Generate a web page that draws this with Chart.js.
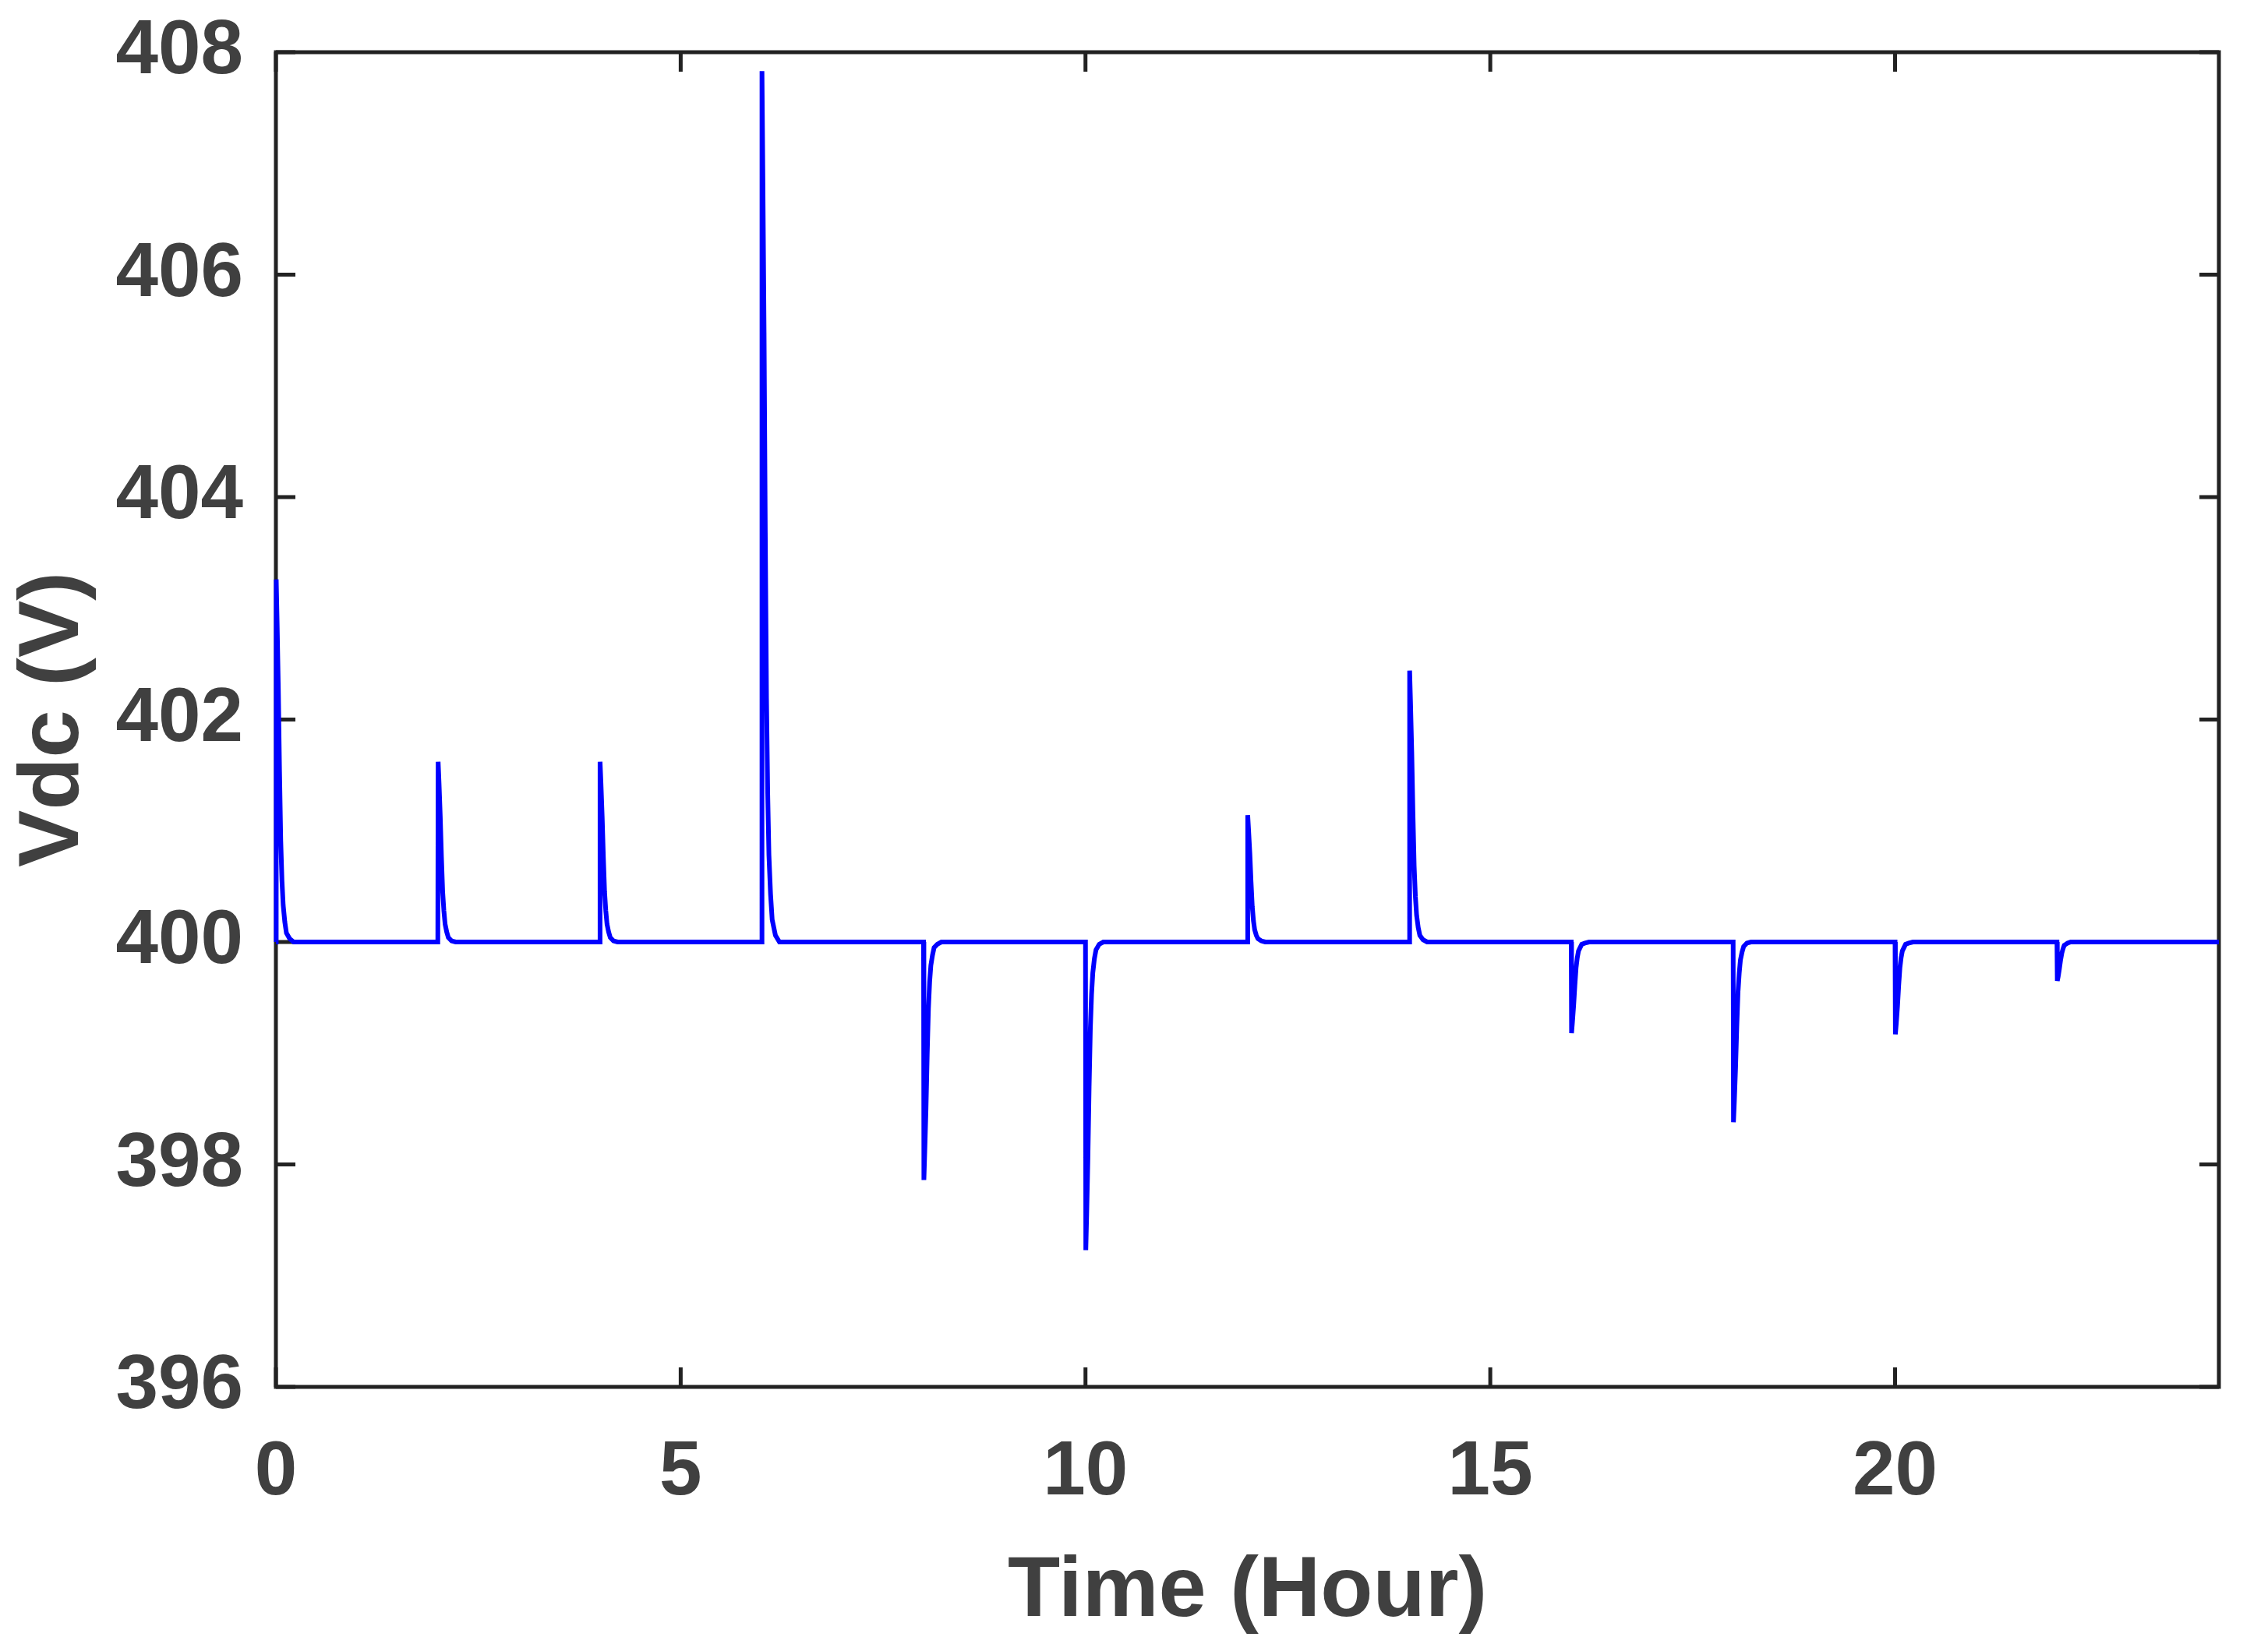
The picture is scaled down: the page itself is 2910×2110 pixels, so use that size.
<!DOCTYPE html>
<html>
<head>
<meta charset="utf-8">
<script src="https://cdn.jsdelivr.net/npm/chart.js@4.4.1/dist/chart.umd.min.js"></script>
<style>
  html,body{margin:0;padding:0;background:#fff;}
  canvas{display:block;}
</style>
</head>
<body>
<canvas id="vdc" width="2910" height="2110"></canvas>
<script>
// --- Daten ---
const xTickValues = [0, 5, 10, 15, 20];
const yTickValues = [396, 398, 400, 402, 404, 406, 408];

// Zeitpunkte der Lastwechsel (h) und Abstände der Stützpunkte danach (h)
const eventHours  = [0, 2, 4, 6, 8, 10, 12, 14, 16, 18, 20, 22];
const offsetHours = [0, 0.004, 0.015, 0.03, 0.045, 0.06, 0.075, 0.09, 0.11, 0.13, 0.17, 0.22];

// Vdc-Verlauf je Ereignis (V), passend zu offsetHours
const vdcAt00 = [400, 403.26, 402.87, 402.28, 401.53, 400.91, 400.55, 400.33, 400.18, 400.08, 400.03, 400];
const vdcAt02 = [400, 401.62, 401.43, 401.13, 400.76, 400.45, 400.28, 400.16, 400.09, 400.04, 400.01, 400];
const vdcAt04 = [400, 401.62, 401.43, 401.13, 400.76, 400.45, 400.28, 400.16, 400.09, 400.04, 400.01, 400];
const vdcAt06 = [400, 407.83, 406.89, 405.48, 403.68, 402.19, 401.33, 400.78, 400.43, 400.20, 400.06, 400];
const vdcAt08 = [400, 397.86, 398.12, 398.50, 398.99, 399.40, 399.64, 399.79, 399.88, 399.95, 399.98, 400];
const vdcAt10 = [400, 397.23, 397.56, 398.06, 398.70, 399.22, 399.53, 399.72, 399.85, 399.93, 399.98, 400];
const vdcAt12 = [400, 401.14, 401.00, 400.80, 400.54, 400.32, 400.19, 400.11, 400.06, 400.03, 400.01, 400];
const vdcAt14 = [400, 402.44, 402.15, 401.71, 401.15, 400.68, 400.41, 400.24, 400.13, 400.06, 400.02, 400];
const vdcAt16 = [400, 399.18, 399.28, 399.43, 399.61, 399.77, 399.86, 399.92, 399.95, 399.98, 399.99, 400];
const vdcAt18 = [400, 398.38, 398.57, 398.87, 399.24, 399.55, 399.72, 399.84, 399.91, 399.96, 399.99, 400];
const vdcAt20 = [400, 399.17, 399.27, 399.42, 399.61, 399.77, 399.86, 399.92, 399.95, 399.98, 399.99, 400];
const vdcAt22 = [400, 399.65, 399.69, 399.76, 399.84, 399.90, 399.94, 399.97, 399.98, 399.99, 400.00, 400];
const eventVdc = [vdcAt00, vdcAt02, vdcAt04, vdcAt06, vdcAt08, vdcAt10,
                  vdcAt12, vdcAt14, vdcAt16, vdcAt18, vdcAt20, vdcAt22];
const endHour = 24, endVdc = 400;

// Punkte zusammenbauen
const points = [];
eventHours.forEach((h, i) => {
  offsetHours.forEach((o, k) => points.push({x: h + o, y: eventVdc[i][k]}));
});
points.push({x: endHour, y: endVdc});

// --- Stil ---
const FRAME = '#222222';
const TEXT  = '#404040';
const FONT  = '"Liberation Sans", Arial, Helvetica, sans-serif';
const TICK_LEN = 25;

// Rahmen + nach innen zeigende Ticks an allen vier Seiten
const frameTicks = {
  id: 'frameTicks',
  beforeDatasetsDraw(chart){
    const {ctx, chartArea:a, scales:{x, y}} = chart;
    ctx.save();
    ctx.strokeStyle = FRAME;
    ctx.lineWidth = 5;
    ctx.beginPath();
    xTickValues.forEach(v=>{
      const px = x.getPixelForValue(v);
      ctx.moveTo(px, a.bottom); ctx.lineTo(px, a.bottom - TICK_LEN);
      ctx.moveTo(px, a.top);    ctx.lineTo(px, a.top + TICK_LEN);
    });
    yTickValues.forEach(v=>{
      const py = y.getPixelForValue(v);
      ctx.moveTo(a.left, py);  ctx.lineTo(a.left + TICK_LEN, py);
      ctx.moveTo(a.right, py); ctx.lineTo(a.right - TICK_LEN, py);
    });
    ctx.stroke();
    ctx.lineJoin = 'miter';
    ctx.strokeRect(a.left, a.top, a.right - a.left, a.bottom - a.top);
    ctx.restore();
  }
};

new Chart(document.getElementById('vdc'), {
  type: 'line',
  data: {
    datasets: [{
      data: points,
      borderColor: '#0000ff',
      borderWidth: 6,
      pointRadius: 0,
      tension: 0,
      fill: false,
      clip: 5
    }]
  },
  options: {
    responsive: false,
    devicePixelRatio: 1,
    animation: false,
    parsing: false,
    layout: { padding: {top: 67, right: 63, left: 0, bottom: 0} },
    plugins: { legend: {display: false}, tooltip: {enabled: false} },
    scales: {
      x: {
        type: 'linear', min: 0, max: 24,
        afterBuildTicks: s => { s.ticks = xTickValues.map(v => ({value: v})); },
        afterFit: s => { s.height = 330; s.paddingLeft = 0; s.paddingRight = 0; },
        grid: { display: false, drawTicks: false },
        border: { display: false },
        ticks: { color: TEXT, padding: 52, maxRotation: 0,
                 font: {family: FONT, size: 98, weight: 'bold'} },
        title: { display: true, text: 'Time (Hour)', color: TEXT,
                 padding: {top: 2, bottom: 0},
                 font: {family: FONT, size: 110, weight: 'bold'} }
      },
      y: {
        type: 'linear', min: 396, max: 408,
        afterBuildTicks: s => { s.ticks = yTickValues.map(v => ({value: v})); },
        afterFit: s => { s.width = 354; s.paddingTop = 0; s.paddingBottom = 0; },
        grid: { display: false, drawTicks: false },
        border: { display: false },
        ticks: { color: TEXT, padding: 42,
                 font: {family: FONT, size: 98, weight: 'bold'} },
        title: { display: true, text: 'Vdc (V)', color: TEXT,
                 padding: {top: 4, bottom: 0},
                 font: {family: FONT, size: 110, weight: 'bold'} }
      }
    }
  },
  plugins: [frameTicks]
});
</script>
</body>
</html>
